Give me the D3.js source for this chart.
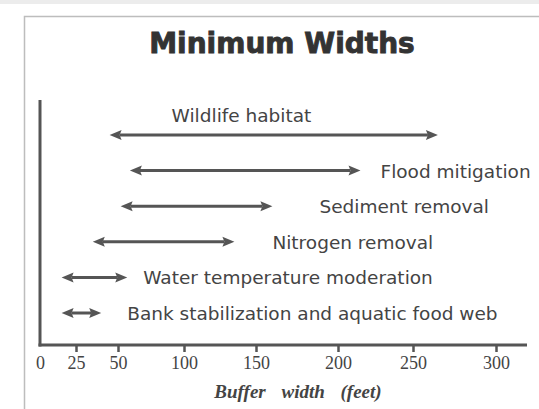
<!DOCTYPE html>
<html>
<head>
<meta charset="utf-8">
<script src="https://cdn.jsdelivr.net/npm/d3@7"></script>
<style>
  body { margin: 0; background: #fff; }
  svg { display: block; }
</style>
</head>
<body>
<svg id="chart"></svg>
<script>
// minimum buffer widths (feet)
var categories = ["Wildlife habitat", "Flood mitigation", "Sediment removal",
                  "Nitrogen removal", "Water temperature moderation",
                  "Bank stabilization and aquatic food web"];
var lowFeet  = [45, 59, 52, 35, 15, 15];
var highFeet = [265, 215, 160, 135, 57, 40];
var tickValues = [0, 25, 50, 100, 150, 200, 250, 300];

// the printed axis is hand spaced, so the scale is piecewise
var tickPixels = [40, 76, 118, 184, 256, 338, 413, 496];

var width = 539, height = 409;
var ink = "#555";
var svg = d3.select("#chart").attr("width", width).attr("height", height);

// frame of the scanned figure
svg.append("rect").attr("x", 0).attr("y", 0).attr("width", width).attr("height", 4).attr("fill", "#ececec");
svg.append("rect")
    .attr("x", 24.5).attr("y", 16.5)
    .attr("width", width).attr("height", height)
    .attr("fill", "none").attr("stroke", "#bdbdbd").attr("stroke-width", 1.5);

svg.append("text")
    .attr("x", 282).attr("y", 53)
    .attr("text-anchor", "middle")
    .attr("font-family", "DejaVu Sans").attr("font-weight", "bold")
    .attr("font-size", 28).attr("fill", "#333")
    .attr("stroke", "#333").attr("stroke-width", 0.9)
    .text("Minimum Widths");

var x = d3.scaleLinear().domain(tickValues).range(tickPixels);
var y = d3.scalePoint().domain(categories).range([135, 313]);

// axes
svg.append("line").attr("x1", 40).attr("x2", 40).attr("y1", 100).attr("y2", 346.5)
    .attr("stroke", ink).attr("stroke-width", 3);
svg.append("line").attr("x1", 38.5).attr("x2", 527).attr("y1", 345).attr("y2", 345)
    .attr("stroke", ink).attr("stroke-width", 3);

var xAxis = svg.append("g")
    .attr("transform", "translate(0,345)")
    .call(d3.axisBottom(x).tickValues(tickValues).tickSize(7).tickPadding(4));
xAxis.select(".domain").remove();
xAxis.selectAll(".tick line").attr("stroke", ink).attr("stroke-width", 2.5)
    .filter(function (d) { return d === 0; }).remove();
xAxis.selectAll(".tick text")
    .attr("font-family", "Liberation Serif").attr("font-size", 18)
    .attr("fill", "#444");

svg.append("text")
    .attr("x", 298).attr("y", 398)
    .attr("text-anchor", "middle")
    .attr("font-family", "Liberation Serif").attr("font-weight", "bold")
    .attr("font-style", "italic").attr("font-size", 19)
    .attr("word-spacing", 11).attr("fill", "#444")
    .text("Buffer width (feet)");

// double headed arrows
var head = 12, half = 5;
var rows = categories.map(function (c, i) {
    return { name: c, lo: lowFeet[i], hi: highFeet[i] };
});
var g = svg.append("g").attr("class", "arrows");
rows.forEach(function (r) {
    var x0 = x(r.lo), x1 = x(r.hi), yy = y(r.name);
    g.append("line").attr("x1", x0 + head - 2).attr("x2", x1 - head + 2)
        .attr("y1", yy).attr("y2", yy)
        .attr("stroke", ink).attr("stroke-width", 3);
    g.append("path")
        .attr("d", "M" + x0 + "," + yy + "L" + (x0 + head) + "," + (yy - half) +
                   "L" + (x0 + head - 2) + "," + yy + "L" + (x0 + head) + "," + (yy + half) + "Z")
        .attr("fill", ink);
    g.append("path")
        .attr("d", "M" + x1 + "," + yy + "L" + (x1 - head) + "," + (yy - half) +
                   "L" + (x1 - head + 2) + "," + yy + "L" + (x1 - head) + "," + (yy + half) + "Z")
        .attr("fill", ink);
});

// labels: first one sits above its arrow, the rest to the right
var labelGap = [null, 20, 47, 38, 16, 26];
svg.append("g").selectAll("text")
    .data(rows)
    .enter().append("text")
    .attr("x", function (r, i) { return i === 0 ? x(r.lo) + 62 : x(r.hi) + labelGap[i]; })
    .attr("y", function (r, i) { return i === 0 ? y(r.name) - 13 : y(r.name) + 7; })
    .attr("font-family", "DejaVu Sans").attr("font-size", 18.5)
    .attr("fill", "#444")
    .text(function (r) { return r.name; });
</script>
</body>
</html>
